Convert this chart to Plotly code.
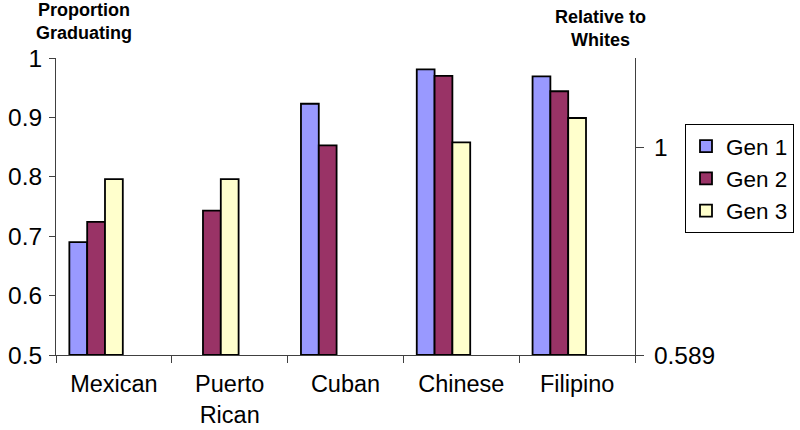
import plotly.graph_objects as go

categories = ["Mexican", "Puerto<br>Rican", "Cuban", "Chinese", "Filipino"]
gen1 = [0.690, None, 0.923, 0.981, 0.969]
gen2 = [0.724, 0.743, 0.853, 0.970, 0.944]
gen3 = [0.796, 0.796, None, 0.858, 0.899]
series_names = ["Gen 1", "Gen 2", "Gen 3"]
series_colors = ["#9999FF", "#993366", "#FFFFCC"]
left_ticks = [0.5, 0.6, 0.7, 0.8, 0.9, 1.0]
white_rate = 0.849  # graduation proportion of whites (right axis = value / white_rate)

FONT = "Liberation Sans, Arial, sans-serif"
W, H = 800, 430
L, R, T, B = 56, 165, 58, 75
PW, PH = W - L - R, H - T - B


def px_x(x):
    return (x - L) / PW


def px_y(y):
    return (H - B - y) / PH


fig = go.Figure()
slots = 6.5  # Excel-style: 5 bar slots + 150% gap
bw = 1 / slots
for i, (name, vals, col) in enumerate(zip(series_names, [gen1, gen2, gen3], series_colors)):
    fig.add_trace(go.Bar(
        x=categories, y=[None if v is None else v - 0.5 for v in vals], base=0.5,
        name=name, marker=dict(color=col, line=dict(color="black", width=1.8)),
        width=bw, offset=-0.5 + (0.75 + i) * bw,
    ))
# relative-to-whites axis carrier
fig.add_trace(go.Scatter(x=[], y=[], yaxis="y2", showlegend=False, hoverinfo="skip"))

fig.update_layout(
    width=W, height=H,
    margin=dict(l=L, r=R, t=T, b=B, autoexpand=False),
    paper_bgcolor="white", plot_bgcolor="white",
    font=dict(family=FONT, size=23, color="black"),
    showlegend=True,
    legend=dict(x=px_x(685), xanchor="left", y=px_y(124), yanchor="top",
                bordercolor="black", borderwidth=1, bgcolor="white",
                font=dict(size=22.5), itemwidth=30, tracegroupgap=0),
    xaxis=dict(showline=True, linecolor="#404040", linewidth=1, automargin=False,
               ticks="outside", tickson="boundaries", ticklen=7, tickcolor="#404040",
               showgrid=False, tickfont=dict(size=23.5), ticklabelstandoff=8),
    yaxis=dict(range=[0.5, 1.0], tickvals=left_ticks, showline=True, linecolor="#404040",
               ticks="outside", ticklen=6, tickcolor="#404040", showgrid=False, automargin=False,
               zeroline=False, tickfont=dict(size=24.5), ticklabelstandoff=2),
    yaxis2=dict(overlaying="y", side="right", range=[0.5 / white_rate, 1.0 / white_rate],
                tickvals=[0.5 / white_rate, 1.0], ticktext=["0.589", "1"], automargin=False,
                showline=True, linecolor="#404040", ticks="outside", ticklen=8,
                tickcolor="#404040", showgrid=False, zeroline=False,
                tickfont=dict(size=24.5), ticklabelstandoff=5),
    annotations=[
        dict(text="<b>Proportion<br>Graduating</b>", xref="paper", yref="paper",
             x=px_x(84), y=px_y(21.5), xanchor="center", yanchor="middle",
             showarrow=False, font=dict(size=18)),
        dict(text="<b>Relative to<br>Whites</b>", xref="paper", yref="paper",
             x=px_x(600), y=px_y(28), xanchor="center", yanchor="middle",
             showarrow=False, font=dict(size=18)),
    ],
)
fig.write_html("out.html", config={"displayModeBar": False},
               post_script="document.body.style.margin='0px';")
